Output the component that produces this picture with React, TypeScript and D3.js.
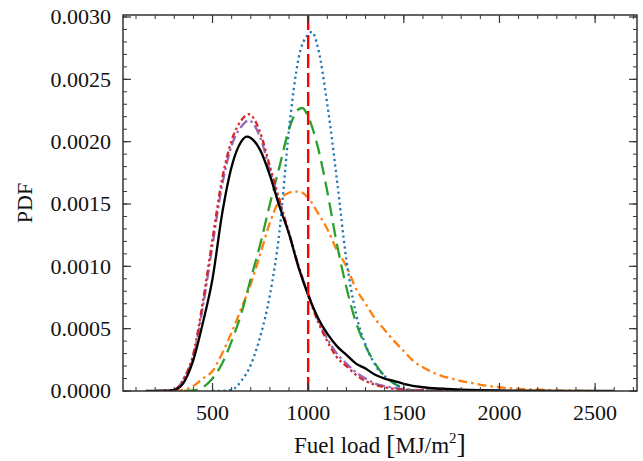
import React from "react";
import * as d3 from "d3";

// ---- data ----
const blackX = [150, 250, 300, 350, 400, 450, 500, 550, 600, 650, 680, 700, 750, 800, 850, 900, 950, 1000, 1050, 1100, 1150, 1200, 1250, 1300, 1350, 1400, 1450, 1500, 1600, 1700, 1800, 1900, 2000, 2200, 2400, 2600];
const blackY = [0, 0.000002, 0.00001, 0.00007, 0.00025, 0.00055, 0.0009, 0.00142, 0.0018, 0.002, 0.00204, 0.00203, 0.00193, 0.00173, 0.00148, 0.00126, 0.00099, 0.00077, 0.00059, 0.00046, 0.00036, 0.00029, 0.00022, 0.00018, 0.00013, 0.0001, 0.00008, 0.000058, 0.00003, 0.000018, 0.00001, 0.000006, 0.000004, 0.000002, 0.000001, 0];

const redX = [200, 250, 300, 350, 400, 450, 500, 550, 600, 650, 690, 750, 800, 850, 900, 950, 1000, 1050, 1100, 1150, 1200, 1250, 1300, 1350, 1400, 1500, 1600, 1800, 2000];
const redY = [0, 0.000003, 0.00001, 0.0001, 0.0003, 0.00072, 0.00122, 0.0017, 0.00201, 0.00217, 0.00222, 0.00207, 0.0018, 0.00153, 0.00127, 0.001, 0.00077, 0.00056, 0.0004, 0.00027, 0.0002, 0.00013, 0.00008, 0.00005, 0.00003, 0.00001, 0.000004, 0.000001, 0];

const purpleX = redX;
const purpleY = [0, 0.000003, 0.00001, 0.0001, 0.00028, 0.00068, 0.00117, 0.00165, 0.00197, 0.00212, 0.00217, 0.00203, 0.00177, 0.00151, 0.00126, 0.001, 0.00078, 0.00058, 0.00042, 0.0003, 0.00022, 0.00015, 0.0001, 0.00006, 0.00004, 0.000015, 0.000006, 0.000002, 0];

const blueX = [500, 550, 600, 650, 700, 750, 800, 850, 900, 950, 1000, 1020, 1050, 1100, 1150, 1200, 1250, 1300, 1350, 1400, 1450, 1500, 1550, 1600];
const blueY = [0, 0.000002, 0.00001, 0.00008, 0.00021, 0.00044, 0.00077, 0.00128, 0.0021, 0.00267, 0.00286, 0.00288, 0.00276, 0.0023, 0.0017, 0.00105, 0.00062, 0.00037, 0.00021, 0.00012, 0.00006, 0.00002, 0.000005, 0];

const greenX = [350, 400, 450, 500, 550, 600, 650, 700, 750, 800, 850, 900, 950, 970, 1000, 1050, 1100, 1150, 1200, 1250, 1300, 1350, 1400, 1450, 1500, 1550, 1600, 1700];
const greenY = [0, 0.000005, 0.00003, 0.0001, 0.00022, 0.0004, 0.00062, 0.0009, 0.00118, 0.0015, 0.0018, 0.0021, 0.00226, 0.00227, 0.0022, 0.00196, 0.0016, 0.00118, 0.00083, 0.00055, 0.00036, 0.00022, 0.00012, 0.00006, 0.00002, 0.000006, 0.000002, 0];

const orangeX = [300, 350, 400, 450, 500, 550, 600, 650, 700, 750, 800, 850, 900, 930, 950, 1000, 1050, 1100, 1150, 1200, 1250, 1300, 1350, 1400, 1450, 1500, 1550, 1600, 1650, 1700, 1750, 1800, 1850, 1900, 2000, 2100, 2200, 2300, 2400, 2500];
const orangeY = [0, 0.00001, 0.00004, 0.0001, 0.00016, 0.0003, 0.00047, 0.00066, 0.00086, 0.0011, 0.00135, 0.00153, 0.00159, 0.0016, 0.0016, 0.00155, 0.00143, 0.0013, 0.00113, 0.001, 0.00082, 0.0007, 0.00058, 0.00049, 0.0004, 0.00032, 0.00024, 0.00019, 0.00015, 0.00012, 0.0001, 0.00008, 0.000065, 0.00005, 0.00003, 0.000017, 0.00001, 0.000005, 0.000002, 0];

const referenceLoad = 1000;

const xTicks = [500, 1000, 1500, 2000, 2500];
const yTicks = [0, 0.0005, 0.001, 0.0015, 0.002, 0.0025, 0.003];
const xLabel = "Fuel load";
const yLabel = "PDF";

// ---- layout ----
const W = 643;
const H = 461;
const L = 123;
const R = 637;
const T = 15;
const B = 391;
const FONT = "'Liberation Serif', 'DejaVu Serif', serif";

const x = d3.scaleLinear().domain([32, 2719]).range([L, R]);
const y = d3.scaleLinear().domain([0, 0.003016]).range([B, T]);

const series = [
  { xs: orangeX, ys: orangeY, color: "#ff7f0e", dash: "9,4,2.5,4" },
  { xs: greenX, ys: greenY, color: "#2ca02c", dash: "14,7" },
  { xs: blueX, ys: blueY, color: "#1f77b4", dash: "2.2,3.3" },
  { xs: purpleX, ys: purpleY, color: "#9467bd", dash: "10,3.5,2.5,3.5" },
  { xs: redX, ys: redY, color: "#d62728", dash: "6,3,2.5,3,2.5,3" },
  { xs: blackX, ys: blackY, color: "#000000", dash: "" },
];

const line = d3
  .line<[number, number]>()
  .x((d) => x(d[0]))
  .y((d) => y(d[1]))
  .curve(d3.curveMonotoneX);

export default function App() {
  const xMinor = d3.range(100, 2701, 100);
  const yMinor = d3.range(0, 0.00301, 0.0001);
  const tickColor = "#333";
  return (
    <svg
      width={W}
      height={H}
      style={{ position: "absolute", left: 0, top: 0, background: "#fff" }}
      fontFamily={FONT}
    >
      <defs>
        <clipPath id="plot">
          <rect x={L} y={T} width={R - L} height={B - T} />
        </clipPath>
      </defs>
      <g clipPath="url(#plot)">
        {series.map((s, i) => (
          <path
            key={i}
            d={line(s.xs.map((v, j) => [v, s.ys[j]] as [number, number])) || ""}
            fill="none"
            stroke={s.color}
            strokeWidth={2.3}
            strokeDasharray={s.dash || undefined}
            strokeLinecap="butt"
          />
        ))}
        <line
          x1={x(referenceLoad)}
          x2={x(referenceLoad)}
          y1={B}
          y2={T}
          stroke="#ff0000"
          strokeWidth={2.4}
          strokeDasharray="14,5"
        />
      </g>
      {/* minor ticks */}
      {xMinor.map((v) => (
        <g key={"xm" + v}>
          <line x1={x(v)} x2={x(v)} y1={B} y2={B - 4} stroke={tickColor} strokeWidth={1} />
          <line x1={x(v)} x2={x(v)} y1={T} y2={T + 4} stroke={tickColor} strokeWidth={1} />
        </g>
      ))}
      {yMinor.map((v, i) => (
        <g key={"ym" + i}>
          <line x1={L} x2={L + 4} y1={y(v)} y2={y(v)} stroke={tickColor} strokeWidth={1} />
          <line x1={R} x2={R - 4} y1={y(v)} y2={y(v)} stroke={tickColor} strokeWidth={1} />
        </g>
      ))}
      {/* major ticks */}
      {xTicks.map((v) => (
        <g key={"xt" + v}>
          <line x1={x(v)} x2={x(v)} y1={B} y2={B - 8} stroke={tickColor} strokeWidth={1.2} />
          <line x1={x(v)} x2={x(v)} y1={T} y2={T + 8} stroke={tickColor} strokeWidth={1.2} />
          <text x={x(v)} y={420} textAnchor="middle" fontSize={22} fill="#111">
            {v}
          </text>
        </g>
      ))}
      {yTicks.map((v) => (
        <g key={"yt" + v}>
          <line x1={L} x2={L + 8} y1={y(v)} y2={y(v)} stroke={tickColor} strokeWidth={1.2} />
          <line x1={R} x2={R - 8} y1={y(v)} y2={y(v)} stroke={tickColor} strokeWidth={1.2} />
          <text x={111} y={y(v)} dy="0.34em" textAnchor="end" fontSize={22} fill="#111">
            {d3.format(".4f")(v)}
          </text>
        </g>
      ))}
      <rect x={L} y={T} width={R - L} height={B - T} fill="none" stroke="#333" strokeWidth={1.5} />
      <text x={(L + R) / 2} y={453} textAnchor="middle" fontSize={23} fill="#111">
        {xLabel} <tspan fontSize={28} dy="1">[</tspan>
        <tspan dy="-1">MJ/m</tspan>
        <tspan fontSize={15} dy="-10">2</tspan>
        <tspan fontSize={28} dy="10">]</tspan>
      </text>
      <text
        transform={`translate(32, ${(T + B) / 2}) rotate(-90)`}
        textAnchor="middle"
        fontSize={22}
        fill="#111"
      >
        {yLabel}
      </text>
    </svg>
  );
}
